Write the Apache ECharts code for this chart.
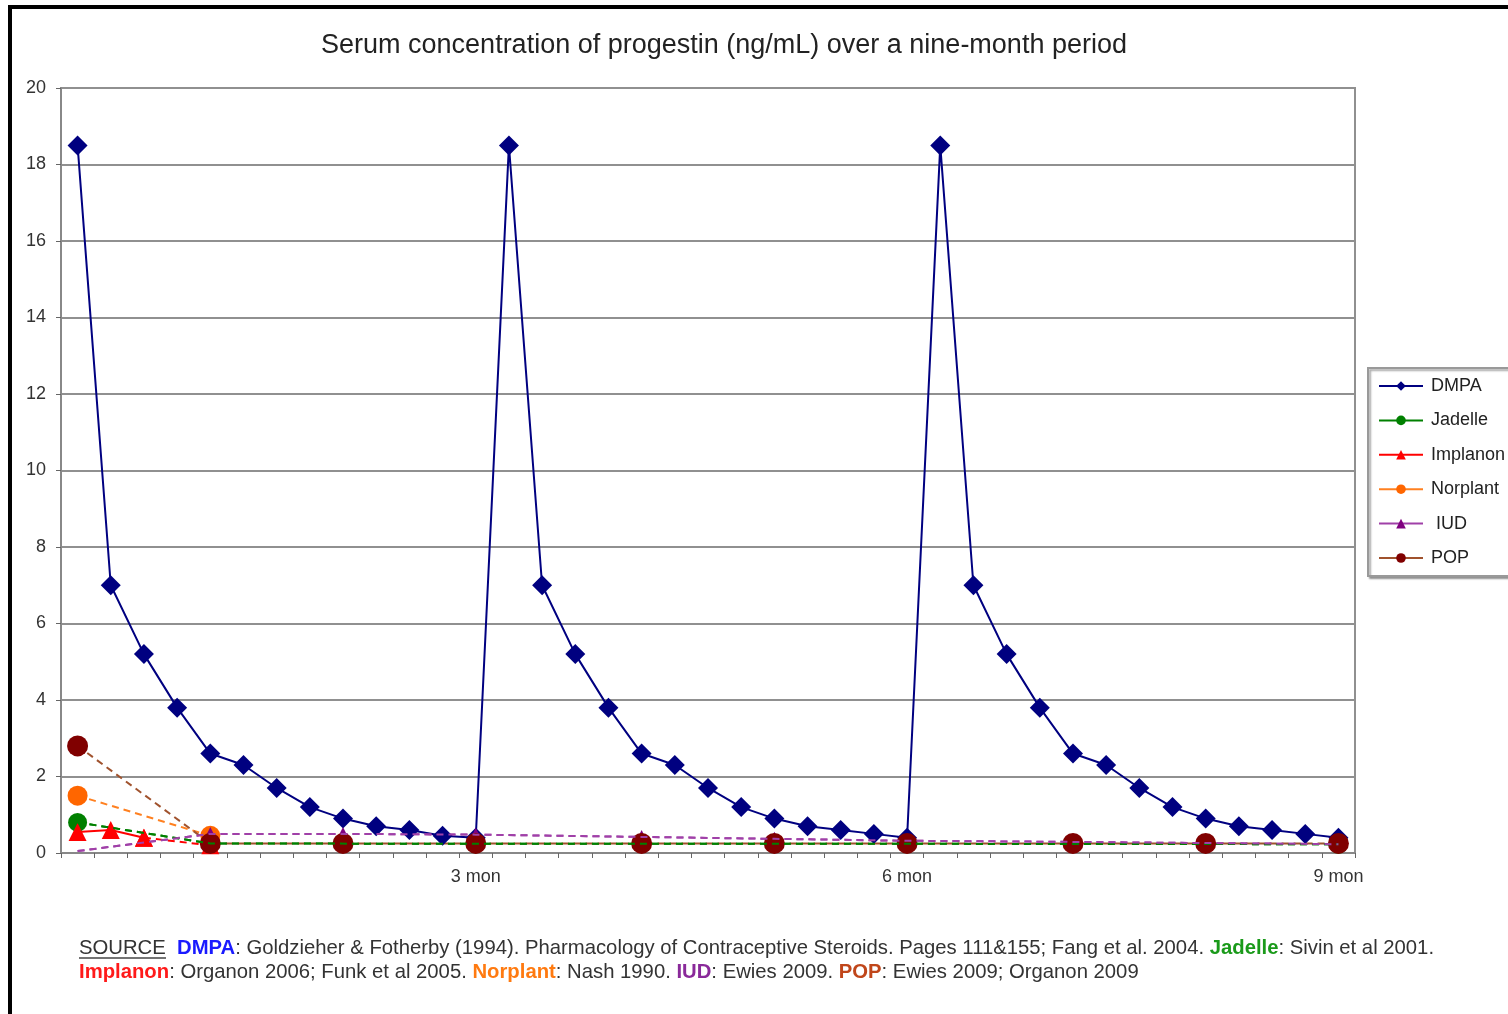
<!DOCTYPE html>
<html><head><meta charset="utf-8">
<script src="https://cdn.jsdelivr.net/npm/echarts@6/dist/echarts.min.js"></script>
<style>html,body{margin:0;padding:0;background:#fff}#c{width:1508px;height:1014px}</style>
</head><body><div id="c"></div>
<script>
// x-axis categories (weekly steps over nine months); only three carry labels
const weekLabels = ['', '', '', '', '', '', '', '', '', '', '', '', '3 mon',
  '', '', '', '', '', '', '', '', '', '', '', '', '6 mon',
  '', '', '', '', '', '', '', '', '', '', '', '', '9 mon'];
const yTicks = [0, 2, 4, 6, 8, 10, 12, 14, 16, 18, 20];

const dmpa = [18.5, 7.0, 5.2, 3.8, 2.6, 2.3, 1.7, 1.2, 0.9, 0.7, 0.6, 0.45, 0.4,
  18.5, 7.0, 5.2, 3.8, 2.6, 2.3, 1.7, 1.2, 0.9, 0.7, 0.6, 0.5, 0.4,
  18.5, 7.0, 5.2, 3.8, 2.6, 2.3, 1.7, 1.2, 0.9, 0.7, 0.6, 0.5, 0.4];
const jadelle = [0.8, null, null, null, 0.25, null, null, null, null, null, null, null, 0.24,
  null, null, null, null, null, null, null, null, null, null, null, null, 0.24,
  null, null, null, null, null, null, null, null, null, null, null, null, 0.23];
const implanonSolid = [0.55, 0.6, 0.4, null, null, null, null, null, null, null, null, null, null,
  null, null, null, null, null, null, null, null, null, null, null, null, null,
  null, null, null, null, null, null, null, null, null, null, null, null, null];
const implanonDashed = [null, null, 0.4, null, 0.2, null, null, null, null, null, null, null, null,
  null, null, null, null, null, null, null, null, null, null, null, null, null,
  null, null, null, null, null, null, null, null, null, null, null, null, null];
const norplant = [1.5, null, null, null, 0.45, null, null, null, null, null, null, null, null,
  null, null, null, null, null, null, null, null, null, null, null, null, null,
  null, null, null, null, null, null, null, null, null, null, null, null, null];
const iud = [0.05, null, null, null, 0.5, null, null, null, 0.5, null, null, null, 0.48,
  null, null, null, null, 0.42, null, null, null, 0.37, null, null, null, 0.32,
  null, null, null, null, 0.29, null, null, null, 0.26, null, null, null, 0.23];
const pop = [2.8, null, null, null, 0.25, null, null, null, 0.25, null, null, null, 0.25,
  null, null, null, null, 0.25, null, null, null, 0.25, null, null, null, 0.25,
  null, null, null, null, 0.25, null, null, null, 0.25, null, null, null, 0.25];

const FONT = '"Liberation Sans", Arial, sans-serif';
const chart = echarts.init(document.getElementById('c'), null, {renderer: 'canvas'});

chart.setOption({
  animation: false,
  backgroundColor: '#fff',
  title: {
    text: 'Serum concentration of progestin (ng/mL) over a nine-month period',
    left: 719, top: 27, textAlign: 'center',
    textStyle: {fontFamily: FONT, fontSize: 27, fontWeight: 'normal', color: '#222'}
  },
  legend: {
    orient: 'vertical', left: 1368, top: 368,
    data: ['DMPA', 'Jadelle', 'Implanon', 'Norplant', ' IUD', 'POP'],
    itemWidth: 44, itemHeight: 12, itemGap: 16.4,
    padding: [9, 10, 9, 10],
    backgroundColor: '#fff', borderColor: '#999', borderWidth: 2, borderRadius: 0,
    shadowColor: 'rgba(0,0,0,0.35)', shadowOffsetX: 2, shadowOffsetY: 2, shadowBlur: 2,
    lineStyle: {type: 'solid', width: 2},
    textStyle: {fontFamily: FONT, fontSize: 18, color: '#222', padding: [0, 0, 0, 3]},
    selectedMode: false
  },
  grid: {left: 61, right: 153, top: 88, bottom: 161, show: true, borderColor: '#909090', borderWidth: 2, containLabel: false},
  xAxis: {
    type: 'category', data: weekLabels, boundaryGap: true,
    axisLine: {lineStyle: {color: '#888', width: 2}},
    axisTick: {show: true, interval: 0, length: 5, lineStyle: {color: '#666'}},
    axisLabel: {interval: 0, margin: 15, fontFamily: FONT, fontSize: 18, color: '#333'},
    splitLine: {show: false}
  },
  yAxis: {
    type: 'value', min: yTicks[0], max: yTicks[yTicks.length - 1], interval: 2,
    axisLine: {show: true, lineStyle: {color: '#888', width: 2}},
    axisTick: {show: true, length: 5, lineStyle: {color: '#666'}},
    axisLabel: {margin: 15, fontFamily: FONT, fontSize: 18, color: '#333'},
    splitLine: {lineStyle: {color: '#909090', width: 2}}
  },
  series: [
    {name: 'DMPA', type: 'line', data: dmpa, symbol: 'diamond', symbolSize: 20,
     itemStyle: {color: '#000080'}, lineStyle: {color: '#000080', width: 2}},
    {name: 'Jadelle', type: 'line', data: jadelle, connectNulls: true, symbol: 'circle', symbolSize: 19,
     itemStyle: {color: '#008000'}, lineStyle: {color: '#008000', width: 2, type: [7, 5]}},
    {name: 'Implanon', type: 'line', data: implanonSolid, connectNulls: true, symbol: 'triangle', symbolSize: 18,
     itemStyle: {color: '#ff0000'}, lineStyle: {color: '#ff0000', width: 2}},
    {name: 'Implanon', type: 'line', data: implanonDashed, connectNulls: true, symbol: 'triangle', symbolSize: 18,
     itemStyle: {color: '#ff0000'}, lineStyle: {color: '#ff0000', width: 2, type: [7, 5]}},
    {name: 'Norplant', type: 'line', data: norplant, connectNulls: true, symbol: 'circle', symbolSize: 20,
     itemStyle: {color: '#ff6600'}, lineStyle: {color: '#ff8020', width: 2, type: [7, 5]}},
    {name: ' IUD', type: 'line', data: iud, connectNulls: true, symbol: 'triangle',
     symbolSize: function (v, p) { return p.dataIndex === 0 ? 0 : 14; },
     itemStyle: {color: '#800080'}, lineStyle: {color: '#a040a8', width: 2, type: [7, 5]}},
    {name: 'POP', type: 'line', data: pop, connectNulls: true, symbol: 'circle', symbolSize: 21,
     itemStyle: {color: '#800000'}, lineStyle: {color: '#a0522d', width: 2, type: [7, 5]}},
    // dashed lines that run over the POP markers
    {name: 'Jadelle', type: 'line', data: jadelle, connectNulls: true, symbol: 'none', z: 4,
     lineStyle: {color: '#008000', width: 2, type: [7, 5]}},
    {name: ' IUD', type: 'line', data: iud, connectNulls: true, symbol: 'none', z: 4,
     lineStyle: {color: '#a040a8', width: 2, type: [7, 5]}}
  ],
  graphic: [
    {type: 'rect', shape: {x: 8, y: 5, width: 1500, height: 4}, style: {fill: '#000'}},
    {type: 'rect', shape: {x: 8, y: 5, width: 4, height: 1009}, style: {fill: '#000'}},
    {type: 'text', x: 79, y: 936, style: {
      text: '{src|SOURCE}  {dmpa|DMPA}: Goldzieher & Fotherby (1994). Pharmacology of Contraceptive Steroids. Pages 111&155; Fang et al. 2004. {jad|Jadelle}: Sivin et al 2001.\n' +
            '{imp|Implanon}: Organon 2006; Funk et al 2005. {nor|Norplant}: Nash 1990. {iud|IUD}: Ewies 2009. {pop|POP}: Ewies 2009; Organon 2009',
      font: '20.3px ' + FONT, fill: '#333', lineHeight: 24,
      rich: {
        src: {fill: '#333', font: '20.3px ' + FONT, lineHeight: 24},
        dmpa: {fill: '#1a1aff', font: 'bold 20.3px ' + FONT, lineHeight: 24},
        jad: {fill: '#1a9a1a', font: 'bold 20.3px ' + FONT, lineHeight: 24},
        imp: {fill: '#ff1a1a', font: 'bold 20.3px ' + FONT, lineHeight: 24},
        nor: {fill: '#ff7a10', font: 'bold 20.3px ' + FONT, lineHeight: 24},
        iud: {fill: '#8a2a9a', font: 'bold 20.3px ' + FONT, lineHeight: 24},
        pop: {fill: '#c0461a', font: 'bold 20.3px ' + FONT, lineHeight: 24}
      }
    }},
    {type: 'line', shape: {x1: 79, y1: 958, x2: 166, y2: 958}, style: {stroke: '#444', lineWidth: 1.5}}
  ]
});
</script></body></html>
